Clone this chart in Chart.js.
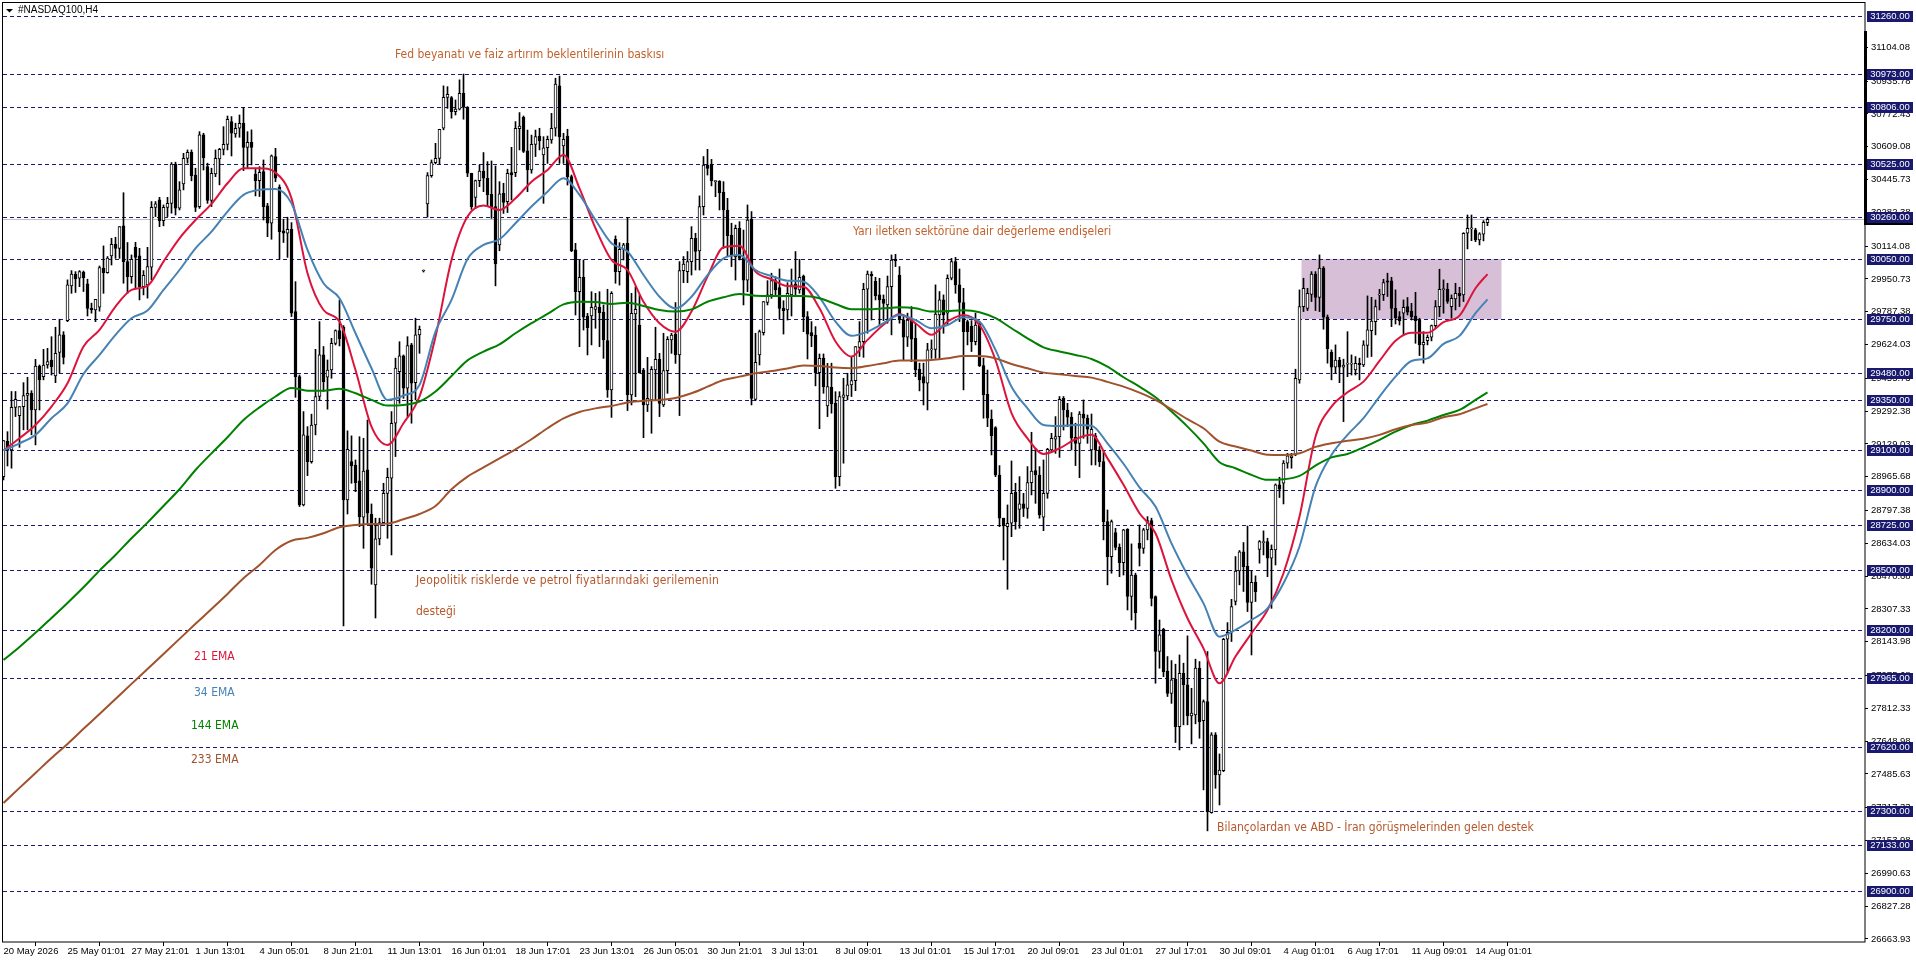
<!DOCTYPE html>
<html>
<head>
<meta charset="utf-8">
<title>#NASDAQ100,H4</title>
<script src="https://cdn.jsdelivr.net/npm/chart.js@4"></script>
<style>
  html, body { margin: 0; padding: 0; background: #fff; overflow: hidden; }
  canvas { display: block; }
</style>
</head>
<body>
<canvas id="chart" width="1916" height="963"></canvas>
<script>
// H4 candles, one value per bar
const opens = [
28966,29142,29099,29311,29270,29315,29370,29381,29298,29517,
29464,29522,29547,29467,29584,29672,29743,29916,29975,29954,
29985,29926,29804,29796,29810,30004,29982,30065,30123,30103,
30215,30037,29962,30108,30065,29912,29921,30009,30307,30344,
30241,30307,30327,30523,30303,30424,30551,30581,30468,30311,
30668,30510,30341,30473,30548,30596,30621,30734,30673,30701,
30726,30605,30631,30473,30440,30485,30314,30228,30560,30407,
30190,30178,30198,29788,29464,28825,29169,29041,29223,29365,
29572,29461,29497,29630,29693,29710,28850,29041,29024,28945,
28764,29000,28780,28427,28656,28737,28883,28958,29232,29489,
29567,29406,29622,29434,29672,29990,30324,30465,30530,30551,
30701,30854,30854,30784,30796,30875,30805,30477,30357,30440,
30488,30452,30372,30311,30120,30377,30335,30480,30480,30699,
30755,30588,30493,30621,30662,30568,30604,30643,30701,30912,
30613,30662,30460,30095,29887,29959,29766,29766,29799,29809,
29784,29643,29398,30148,29987,30098,30128,29373,29776,29721,
29497,29323,29348,29497,29550,29323,29494,29647,29676,29572,
29992,29987,30037,30153,30090,30311,30518,30521,30435,30438,
30382,30294,30169,30062,30203,30053,29945,30248,29351,29572,
29683,29833,29871,29942,29907,29804,29796,29871,29925,29896,
29965,29763,29683,29671,29484,29556,29318,29411,29331,28966,
29361,29368,29423,29444,29610,29638,29899,29974,29939,29871,
29849,29821,29912,30049,29970,29746,29660,29750,29655,29501,
29464,29431,29597,29600,29771,29846,29780,29954,30037,29921,
29833,29738,29716,29638,29730,29519,29376,29253,29210,28974,
28759,28717,28734,28888,28803,28830,28808,28936,28996,28974,
28764,28883,29099,29152,29165,29356,29298,29262,29162,29132,
29278,29257,29099,29169,29099,29041,28742,28568,28687,28614,
28538,28704,28369,28476,28634,28608,28701,28747,28369,28095,
28206,27998,27887,27957,27721,27987,27929,27774,27779,28012,
27751,27846,27293,27680,27480,27502,28156,28191,28344,28496,
28591,28521,28340,28440,28604,28637,28643,28560,28601,28925,
28933,29033,29060,29074,29448,29813,29804,29874,29975,29859,
30004,29760,29585,29511,29547,29511,29526,29526,29497,29530,
29522,29619,29693,29738,29870,29872,29941,29941,29804,29763,
29780,29813,29791,29766,29746,29622,29643,29660,29718,29813,
29897,29899,29813,29851,29879,29871,30178,30200,30195,30145,30173,30231
];
const highs = [
29146,29190,29390,29390,29315,29434,29461,29394,29550,29522,
29600,29605,29663,29710,29750,29688,29946,29992,29987,29992,
29990,29949,29830,29849,30015,30115,30062,30153,30158,30211,
30380,30132,30070,30133,30103,29992,30108,30336,30336,30357,
30319,30357,30530,30532,30435,30576,30593,30593,30502,30684,
30676,30527,30502,30593,30601,30709,30762,30759,30726,30767,
30805,30684,30693,30502,30510,30543,30327,30568,30601,30419,
30248,30258,30231,29937,29472,29290,29215,29277,29600,29738,
29614,29547,29655,29697,29846,29718,29194,29169,29049,29165,
29157,29248,28830,28759,28759,28933,29008,29290,29556,29638,
29572,29663,29630,29755,29716,29995,30480,30543,30626,30696,
30912,30908,30859,30842,30942,30971,30809,30477,30443,30518,
30580,30535,30538,30513,30435,30427,30497,30606,30734,30779,
30762,30692,30667,30692,30701,30659,30662,30775,30950,30961,
30676,30696,30468,30128,30045,30045,29779,29887,29879,29887,
29821,29899,29887,30165,30131,30128,30257,29879,29912,29871,
29505,29560,29514,29710,29580,29680,29663,29680,29833,30037,
30062,30087,30211,30178,30364,30560,30596,30546,30440,30440,
30435,30352,30228,30219,30236,30194,30319,30286,29680,29696,
29838,29942,29979,29962,30000,29842,29932,30000,30087,30048,
29970,29788,29738,29713,29577,29577,29530,29531,29389,29389,
29456,29481,29564,29614,29738,29929,29990,29987,29959,29954,
29871,29965,30070,30073,30012,29771,29780,29813,29730,29531,
29531,29630,29647,29921,29888,29871,29971,30053,30058,30000,
29904,29746,29743,29780,29738,29556,29497,29298,29215,29021,
28759,28825,29044,28933,28966,28883,29016,29187,29107,29016,
29049,29107,29182,29265,29365,29365,29331,29285,29232,29290,
29348,29273,29278,29182,29116,29091,28800,28750,28709,28631,
28704,28707,28631,28485,28725,28709,28767,28759,28372,28252,
28211,28070,28050,28032,28078,28037,28173,27912,28057,28045,
27854,28095,27691,27691,27585,28161,28239,28355,28568,28598,
28638,28720,28498,28472,28648,28696,28659,28626,28930,28963,
29046,29082,29082,29501,29896,29954,29904,29987,29987,30070,
30012,29771,29597,29622,29560,29551,29688,29572,29564,29556,
29643,29866,29859,29846,29899,29949,29979,29959,29896,29788,
29846,29858,29829,29884,29755,29688,29672,29721,29843,29999,
29946,29929,29871,29929,29909,30181,30269,30269,30203,30181,30241,30258
];
const lows = [
28950,29019,29008,29265,29112,29199,29199,29174,29124,29298,
29448,29506,29472,29434,29481,29527,29738,29879,29883,29912,
29888,29766,29780,29738,29790,29879,29979,30020,30053,30053,
29929,29879,29929,29904,29846,29871,29855,29946,30261,30211,
30215,30261,30278,30269,30294,30394,30527,30439,30286,30302,
30493,30327,30311,30460,30419,30568,30593,30563,30656,30656,
30490,30502,30518,30364,30361,30244,30161,30148,30435,30049,
30132,30058,29763,29361,28817,28820,28971,29033,29174,29348,
29390,29302,29456,29622,29617,28223,28780,28933,28891,28717,
28609,28734,28430,28262,28626,28734,28659,28576,29066,29331,
29356,29265,29232,29348,29580,29985,30258,30457,30523,30523,
30693,30800,30751,30767,30792,30746,30460,30297,30302,30410,
30385,30311,30252,29916,30091,30277,30281,30344,30460,30593,
30580,30385,30477,30560,30593,30327,30526,30626,30662,30526,
30526,30418,30086,29771,29613,29696,29572,29622,29705,29613,
29555,29361,29261,29929,29920,30045,29295,29323,29364,29481,
29160,29290,29182,29348,29265,29315,29381,29580,29530,29270,
29932,29932,29970,29995,29995,30269,30468,30414,30360,30294,
30103,30062,30012,29945,30045,29821,29887,29323,29344,29522,
29671,29821,29854,29871,29749,29676,29746,29766,29862,29879,
29688,29552,29613,29418,29205,29381,29265,29282,28908,28920,
29033,29348,29365,29394,29564,29560,29680,29746,29846,29721,
29743,29730,29672,30012,29730,29547,29614,29539,29464,29393,
29323,29298,29555,29555,29555,29680,29721,29946,29879,29738,
29398,29622,29589,29622,29514,29257,29215,29074,28966,28717,
28551,28405,28667,28704,28709,28767,28759,28875,28833,28759,
28697,28858,29091,29082,29062,29198,29215,29099,29021,28961,
29157,29132,29024,29024,29016,28651,28427,28485,28601,28468,
28476,28302,28252,28206,28521,28584,28651,28322,27937,28012,
27970,27871,27837,27642,27605,27730,27730,27635,27735,27663,
27406,27202,27290,27414,27331,27497,27987,28145,28327,28427,
28394,28294,28078,28344,28535,28576,28468,28310,28526,28862,
28830,29008,29008,29070,29431,29788,29793,29838,29793,29788,
29700,29531,29448,29481,29434,29240,29464,29472,29472,29448,
29514,29560,29564,29672,29796,29843,29863,29713,29726,29721,
29672,29771,29746,29630,29569,29531,29622,29642,29705,29763,
29780,29829,29755,29796,29813,29838,30100,30141,30136,30120,30140,30216
];
const closes = [
29146,29096,29311,29351,29315,29370,29381,29298,29517,29448,
29522,29539,29514,29580,29672,29560,29921,29975,29951,29987,
29957,29804,29798,29849,30007,29982,30054,30123,30103,30211,
30037,29962,30048,30058,29912,29969,30012,30307,30324,30241,
30307,30327,30523,30303,30394,30551,30581,30465,30307,30668,
30555,30341,30477,30551,30596,30621,30746,30676,30701,30726,
30605,30631,30605,30440,30482,30311,30228,30563,30452,30186,
30178,30198,29780,29464,28825,29174,29041,29223,29365,29572,
29439,29497,29630,29693,29652,28850,29102,29021,28936,28767,
28994,28784,28510,28656,28737,28883,28963,29232,29506,29567,
29406,29619,29431,29672,29700,29990,30465,30530,30551,30696,
30855,30870,30784,30797,30875,30805,30477,30311,30440,30488,
30452,30369,30311,30025,30374,30332,30477,30468,30701,30712,
30585,30493,30621,30659,30639,30604,30646,30701,30921,30659,
30646,30460,30091,29887,29959,29760,29708,29809,29813,29783,
29647,29398,29879,29987,30098,30120,29373,29779,29799,29484,
29323,29356,29500,29550,29331,29494,29650,29671,29572,29992,
30025,30037,30153,30087,30311,30518,30501,30440,30440,30380,
30294,30166,30070,30203,30053,29945,30244,29356,29535,29688,
29838,29871,29942,29896,29804,29793,29879,29921,29899,29959,
29763,29676,29667,29484,29555,29414,29414,29328,28966,29365,
29373,29423,29444,29614,29638,29899,29975,29966,29866,29846,
29829,29912,30045,30042,29746,29660,29746,29650,29497,29448,
29431,29597,29600,29776,29846,29771,29954,30037,29921,29833,
29688,29688,29638,29721,29519,29373,29257,29170,28974,28759,
28720,28734,28883,28742,28830,28808,28936,28994,28974,28775,
28883,29102,29157,29165,29351,29298,29262,29157,29132,29278,
29257,29202,29202,29099,29041,28742,28568,28742,28613,28538,
28701,28369,28476,28289,28608,28701,28747,28360,28095,28178,
27995,27887,27954,27721,27987,27929,27774,27788,28012,27746,
27846,27298,27680,27480,27505,28156,28191,28319,28496,28591,
28518,28340,28440,28393,28643,28643,28560,28604,28925,28903,
29033,29069,29070,29456,29813,29904,29879,29975,29859,30004,
29760,29602,29511,29547,29511,29522,29530,29530,29530,29524,
29622,29697,29741,29813,29875,29932,29934,29804,29758,29743,
29809,29785,29763,29743,29622,29635,29660,29718,29813,29899,
29903,29838,29854,29879,29866,30178,30203,30205,30145,30175,30233,30248
];

// EMA lines
const emaBars = [
0,4,8,12,16,20,24,28,32,36,40,44,48,52,56,60,64,68,72,76,
80,84,88,92,96,100,104,108,112,116,120,124,128,132,136,140,144,148,152,156,
160,164,168,172,176,180,184,188,192,196,200,204,208,212,216,220,224,228,232,236,
240,244,248,252,256,260,264,268,272,276,280,284,288,292,296,300,304,308,312,316,
320,324,328,332,336,340,344,348,352,356,360,364,368,371
];
const ema21 = [
29096,29157,29223,29315,29431,29614,29697,29813,29896,29916,
30037,30153,30244,30324,30427,30502,30502,30480,30352,29979,
29796,29738,29497,29215,29124,29232,29365,29663,30045,30261,
30316,30294,30352,30435,30493,30568,30402,30203,30045,29995,
29837,29730,29688,29788,29962,30108,30116,29987,29949,29915,
29912,29804,29639,29564,29647,29722,29776,29730,29672,29738,
29771,29721,29547,29282,29157,29079,29107,29152,29174,29057,
28925,28784,28684,28452,28261,28111,27937,28070,28186,28302,
28485,28767,29165,29315,29386,29439,29542,29643,29683,29683,
29735,29768,29904,29975
];
const ema34 = [
29096,29132,29174,29257,29331,29477,29572,29672,29755,29793,
29896,29995,30103,30186,30286,30369,30394,30399,30327,30095,
29929,29854,29680,29506,29348,29370,29423,29688,29846,30050,
30120,30148,30228,30311,30385,30452,30369,30244,30128,30087,
29970,29862,29804,29862,29970,30053,30070,29995,29965,29942,
29937,29859,29738,29667,29688,29730,29771,29746,29705,29721,
29760,29738,29597,29414,29306,29223,29218,29223,29220,29132,
29030,28913,28817,28634,28476,28335,28169,28203,28252,28310,
28435,28618,28916,29074,29174,29257,29365,29464,29542,29555,
29627,29667,29780,29849
];
const ema144 = [
28053,28118,28188,28262,28337,28415,28498,28576,28659,28737,
28820,28903,28999,29082,29162,29248,29311,29365,29408,29394,
29394,29404,29381,29348,29320,29323,29340,29390,29467,29545,
29589,29625,29680,29730,29776,29824,29837,29836,29826,29832,
29816,29796,29788,29799,29837,29859,29876,29867,29866,29866,
29866,29854,29826,29800,29800,29804,29809,29804,29788,29791,
29794,29785,29755,29705,29655,29610,29589,29572,29552,29514,
29461,29414,29361,29290,29215,29132,29038,29008,28975,28950,
28953,28970,29021,29062,29079,29112,29149,29190,29223,29245,
29273,29298,29348,29386
];
const ema233 = [
27341,27416,27490,27565,27635,27710,27784,27859,27934,28008,
28083,28158,28233,28307,28382,28460,28526,28601,28647,28661,
28684,28714,28725,28730,28732,28754,28780,28820,28903,28966,
29012,29057,29102,29152,29207,29256,29288,29306,29318,29335,
29344,29348,29358,29381,29414,29447,29464,29481,29492,29505,
29519,29517,29509,29506,29517,29531,29544,29544,29547,29555,
29567,29567,29555,29527,29506,29484,29476,29467,29459,29438,
29414,29384,29348,29301,29252,29207,29140,29116,29096,29075,
29074,29082,29114,29132,29145,29155,29174,29202,29223,29235,
29262,29277,29306,29328
];

// Horizontal levels and axis labels
const levels = [31260,30973,30806,30525,30260,30050,29750,29480,29350,29100,28900,28725,28500,28200,27965,27620,27300,27133,26900];
const priceTicks = [
31104.08,30935.78,30772.43,30609.08,30445.73,30282.38,30114.08,29950.73,29787.38,29624.03,
29455.73,29292.38,29129.03,28965.68,28797.38,28634.03,28470.68,28307.33,28143.98,27975.68,
27812.33,27648.98,27485.63,27317.33,27153.98,26990.63,26827.28,26663.93
];
const timeBars = [0,16,32,48,64,80,96,112,128,144,160,176,192,208,224,240,256,272,288,304,320,336,352,368];
const timeLabels = [
"20 May 2026","25 May 01:01","27 May 21:01","1 Jun 13:01","4 Jun 05:01","8 Jun 21:01",
"11 Jun 13:01","16 Jun 01:01","18 Jun 17:01","23 Jun 13:01","26 Jun 05:01","30 Jun 21:01",
"3 Jul 13:01","8 Jul 09:01","13 Jul 01:01","15 Jul 17:01","20 Jul 09:01","23 Jul 01:01",
"27 Jul 17:01","30 Jul 09:01","4 Aug 01:01","6 Aug 17:01","11 Aug 09:01","14 Aug 01:01"
];
const bidPrice = 30250;
const zoneTop = 30050, zoneBottom = 29750;
const zoneFromBar = 325, zoneToBar = 375;

const AXIS_FONT = '"Liberation Sans", sans-serif';
const NOTE_FONT = '12px "DejaVu Sans Condensed", "Noto Sans", sans-serif';
const LEVEL_COLOR = "#191970";

const notes = [
  { text: "Fed beyanatı ve faiz artırım beklentilerinin baskısı", x: 395, y: 55, color: "#c0622d" },
  { text: "Yarı iletken sektörüne dair değerleme endişeleri", x: 853, y: 232, color: "#c0622d" },
  { text: "Jeopolitik risklerde ve petrol fiyatlarındaki gerilemenin", x: 416, y: 581, color: "#b5582c", spacing: "0.18px" },
  { text: "desteği", x: 416, y: 612, color: "#b5582c" },
  { text: "Bilançolardan ve ABD - İran görüşmelerinden gelen destek", x: 1217, y: 828, color: "#b5582c" },
  { text: "21 EMA", x: 194, y: 657, color: "#dc143c" },
  { text: "34 EMA", x: 194, y: 693, color: "#4682b4" },
  { text: "144 EMA", x: 191, y: 726, color: "#008000" },
  { text: "233 EMA", x: 191, y: 760, color: "#a0522d" }
];

const bars = opens.map((o, i) => i);

// zone, dashed levels and bid line sit under the candles
const underlay = {
  id: "underlay",
  beforeDatasetsDraw(chart) {
    const { ctx, chartArea: a, scales: { x, y } } = chart;
    ctx.save();
    ctx.fillStyle = "#d8bfd8";
    ctx.fillRect(x.getPixelForValue(zoneFromBar) - 2, y.getPixelForValue(zoneTop), (zoneToBar - zoneFromBar) * 4, y.getPixelForValue(zoneBottom) - y.getPixelForValue(zoneTop));
    ctx.strokeStyle = "#c0c0c0";
    ctx.lineWidth = 1;
    const by = Math.round(y.getPixelForValue(bidPrice)) + 0.5;
    ctx.beginPath();
    ctx.moveTo(a.left, by);
    ctx.lineTo(a.right, by);
    ctx.stroke();
    ctx.strokeStyle = LEVEL_COLOR;
    ctx.setLineDash([4, 3]);
    levels.forEach(l => {
      const ly = Math.round(y.getPixelForValue(l)) + 0.5;
      ctx.beginPath();
      ctx.moveTo(a.left, ly);
      ctx.lineTo(a.right, ly);
      ctx.stroke();
    });
    ctx.restore();
  }
};

// level tags, frame, title and notes go on top
const overlay = {
  id: "overlay",
  afterDraw(chart) {
    const { ctx, scales: { y } } = chart;
    ctx.save();
    ctx.fillStyle = "#000";
    ctx.fillRect(1864, 31, 3, 194);
    ctx.fillRect(1864, 222.5, 49, 2.5);
    ctx.strokeStyle = "#000";
    ctx.lineWidth = 1;
    ctx.strokeRect(2.5, 2.5, 1862.5, 939.5);

    ctx.textBaseline = "middle";
    ctx.font = "9.5px " + AXIS_FONT;
    levels.forEach(l => {
      const ly = Math.round(y.getPixelForValue(l));
      ctx.fillStyle = LEVEL_COLOR;
      ctx.fillRect(1867, ly - 5, 46, 11);
      ctx.fillStyle = "#fff";
      ctx.textAlign = "center";
      ctx.fillText(l.toFixed(2), 1890, ly);
    });

    ctx.textAlign = "left";
    ctx.fillStyle = "#000";
    ctx.beginPath();
    ctx.moveTo(6, 9);
    ctx.lineTo(13, 9);
    ctx.lineTo(9.5, 12.5);
    ctx.fill();
    ctx.font = "10px " + AXIS_FONT;
    ctx.fillText("#NASDAQ100,H4", 18, 10.5);

    ctx.font = NOTE_FONT;
    notes.forEach(n => {
      ctx.letterSpacing = n.spacing || "0px";
      ctx.fillStyle = n.color;
      ctx.fillText(n.text, n.x, n.y);
    });
    ctx.restore();
  }
};

function emaLine(label, values, color, order) {
  return {
    type: "line",
    label: label,
    data: emaBars.map((b, i) => ({ x: b, y: values[i] })),
    borderColor: color,
    borderWidth: 2,
    pointRadius: 0,
    fill: false,
    cubicInterpolationMode: "monotone",
    order: order
  };
}

// keep the plot box fixed, labels may hang over its corners
function noPadding(axis) {
  axis.paddingLeft = 0;
  axis.paddingRight = 0;
  axis.paddingTop = 0;
  axis.paddingBottom = 0;
}

new Chart(document.getElementById("chart"), {
  type: "bar",
  data: {
    datasets: [
      // order: higher numbers are drawn first
      emaLine("233 EMA", ema233, "#a0522d", 1),
      emaLine("144 EMA", ema144, "#008000", 2),
      emaLine("34 EMA", ema34, "#4682b4", 3),
      emaLine("21 EMA", ema21, "#dc143c", 4),
      {
        label: "Body",
        data: bars.map(i => ({ x: i, y: [opens[i], closes[i]] })),
        backgroundColor: bars.map(i => closes[i] >= opens[i] ? "#ffffff" : "#000000"),
        borderColor: "#000000",
        borderWidth: 1,
        borderSkipped: false,
        barThickness: 3,
        minBarLength: 1,
        grouped: false,
        order: 5
      },
      {
        label: "Wick",
        data: bars.map(i => ({ x: i, y: [lows[i], highs[i]] })),
        backgroundColor: "#000000",
        borderWidth: 0,
        barThickness: 1,
        grouped: false,
        order: 6
      }
    ]
  },
  options: {
    responsive: false,
    devicePixelRatio: 1,
    animation: false,
    layout: { padding: { left: 3, top: 3, right: 0, bottom: 0 } },
    plugins: { legend: { display: false }, tooltip: { enabled: false } },
    scales: {
      x: {
        type: "linear",
        offset: false,
        bounds: "data",
        min: -0.125,
        max: 465.375,
        afterBuildTicks: axis => { axis.ticks = timeBars.map(v => ({ value: v })); },
        afterFit: axis => { axis.height = 21; noPadding(axis); },
        grid: { drawOnChartArea: false, drawTicks: true, tickLength: 4, tickColor: "#000" },
        border: { display: false },
        ticks: {
          autoSkip: false,
          maxRotation: 0,
          align: "start",
          padding: 0,
          color: "#000",
          font: { family: AXIS_FONT, size: 9.5 },
          callback: (v, i) => timeLabels[i]
        }
      },
      y: {
        position: "right",
        bounds: "data",
        min: 26648.5,
        max: 31324.7,
        afterBuildTicks: axis => { axis.ticks = priceTicks.map(v => ({ value: v })); },
        afterFit: axis => { axis.width = 51; noPadding(axis); },
        grid: { drawOnChartArea: false, drawTicks: true, tickLength: 3, tickColor: "#000" },
        border: { display: false },
        ticks: {
          autoSkip: false,
          padding: 3,
          color: "#000",
          font: { family: AXIS_FONT, size: 9.5 },
          callback: v => v.toFixed(2)
        }
      }
    }
  },
  plugins: [underlay, overlay]
});
</script>
</body>
</html>
